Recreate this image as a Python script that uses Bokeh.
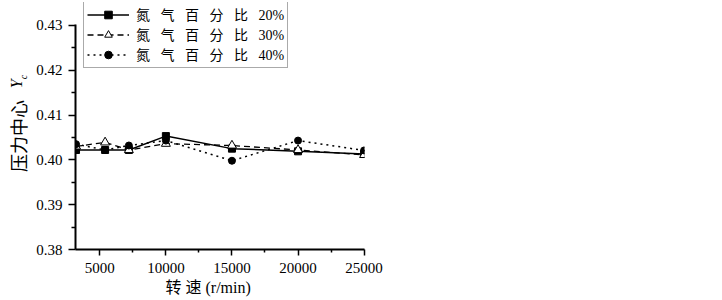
import math
from bokeh.plotting import figure
from bokeh.models import FixedTicker, PrintfTickFormatter, Legend, Title
from bokeh.layouts import row
from bokeh.core.properties import value
from bokeh.embed import file_html
from bokeh.resources import INLINE

# ---- data ----
speed = [3200, 5400, 7200, 10000, 15000, 20000, 25000]
n2_20 = [0.4022, 0.4022, 0.4022, 0.4053, 0.4025, 0.4019, 0.4013]
n2_30 = [0.4030, 0.4039, 0.4022, 0.4036, 0.4032, 0.4022, 0.4011]
n2_40 = [0.4035, 0.4022, 0.4032, 0.4043, 0.3998, 0.4043, 0.4021]
labels = ["氮   气   百   分   比   20%", "氮   气   百   分   比   30%", "氮   气   百   分   比   40%"]
x_ticks = [5000, 10000, 15000, 20000, 25000]
x_minor = [2500, 7500, 12500, 17500, 22500]
y_ticks = [0.38, 0.39, 0.40, 0.41, 0.42, 0.43]
y_minor = [0.385, 0.395, 0.405, 0.415, 0.425]
y_title = "压力中心"
y_title_sym = "Y"
y_title_sub = "c"
x_title = "转 速 (r/min)"

SERIF = "Liberation Serif"
MIXED = "Liberation Serif, Noto Sans CJK SC"
FH = 247   # frame height in px
TOP = 2

# ---- main chart ----
p = figure(frame_width=289, frame_height=FH,
           x_range=(3160, 25030), y_range=(0.38, 0.4351),
           output_backend="svg", toolbar_location=None,
           min_border_left=45, min_border_right=30,
           min_border_top=TOP, min_border_bottom=20)
p.outline_line_color = None
p.xgrid.visible = False
p.ygrid.visible = False
p.background_fill_color = "white"
p.border_fill_color = "white"

for ax in (p.xaxis[0], p.yaxis[0]):
    ax.axis_line_width = 2
    ax.axis_line_color = "black"
    ax.major_tick_line_color = "black"
    ax.minor_tick_line_color = "black"
    ax.major_tick_line_width = 1.5
    ax.minor_tick_line_width = 1.5
    ax.major_tick_in = 0
    ax.minor_tick_in = 0
    ax.major_label_text_font = SERIF
    ax.major_label_text_font_size = "15px"
    ax.major_label_text_color = "black"

p.xaxis.ticker = FixedTicker(ticks=x_ticks, minor_ticks=x_minor)
p.xaxis.major_tick_out = 6
p.xaxis.minor_tick_out = 3
p.xaxis.major_label_standoff = 7

p.yaxis.ticker = FixedTicker(ticks=y_ticks, minor_ticks=y_minor)
p.yaxis.formatter = PrintfTickFormatter(format="%.2f")
p.yaxis.major_tick_out = 7
p.yaxis.minor_tick_out = 4
p.yaxis.major_label_standoff = 6
p.yaxis.bounds = (0.38, 0.4303)

r1l = p.line(speed, n2_20, line_color="black", line_width=1.5)
r1m = p.scatter(speed, n2_20, marker="square", size=7, fill_color="black", line_color="black")
r2l = p.line(speed, n2_30, line_color="black", line_width=1.3, line_dash="6 4")
r2m = p.scatter(speed, n2_30, marker="triangle", size=9, fill_color="white", line_color="black", line_width=1)
r3l = p.line(speed, n2_40, line_color="black", line_width=1.5, line_dash="2 4")
r3m = p.scatter(speed, n2_40, marker="circle", size=7, fill_color="black", line_color="black")

legend = Legend(items=[(labels[0], [r1l, r1m]), (labels[1], [r2l, r2m]), (labels[2], [r3l, r3m])],
                location=(8, 181))
legend.label_text_font = MIXED
legend.label_text_font_size = "14px"
legend.label_text_color = "black"
legend.glyph_width = 42
legend.glyph_height = 19
legend.label_height = 19
legend.label_standoff = 7
legend.spacing = 0
legend.padding = 3
legend.margin = 0
legend.border_line_color = "#555555"
legend.border_line_width = 1
legend.background_fill_color = "white"
legend.background_fill_alpha = 1
p.add_layout(legend)

p.add_layout(Title(text=x_title, align="left", offset=90, vertical_align="top", standoff=6,
                   text_font=MIXED, text_font_size="16px", text_font_style="normal",
                   text_color="black"), "below")

# ---- narrow strip holding the y-axis title (pixel units, same frame height) ----
t = figure(frame_width=22, frame_height=FH, x_range=(0, 22), y_range=(0, FH),
           output_backend="svg", toolbar_location=None,
           x_axis_type=None, y_axis_type=None,
           min_border_left=0, min_border_right=0, min_border_top=TOP, min_border_bottom=0)
t.outline_line_color = None
t.xgrid.visible = False
t.ygrid.visible = False
t.border_fill_color = "white"
t.background_fill_color = "white"
t.text(x=[9.5], y=[113.5], text=[y_title], angle=math.pi / 2,
       text_align="center", text_baseline="middle",
       text_font=value("Noto Sans CJK SC"), text_font_size="18px", text_color="black")
t.text(x=[8], y=[165.7], text=[y_title_sym], angle=math.pi / 2,
       text_align="center", text_baseline="middle",
       text_font=value(SERIF), text_font_style="italic", text_font_size="16px", text_color="black")
t.text(x=[15.3], y=[172.5], text=[y_title_sub], angle=math.pi / 2,
       text_align="center", text_baseline="middle",
       text_font=value(SERIF), text_font_style="italic", text_font_size="10px", text_color="black")

layout = row(t, p, margin=(0, 0, 0, 8))
open("out.html", "w").write(file_html(layout, INLINE))
